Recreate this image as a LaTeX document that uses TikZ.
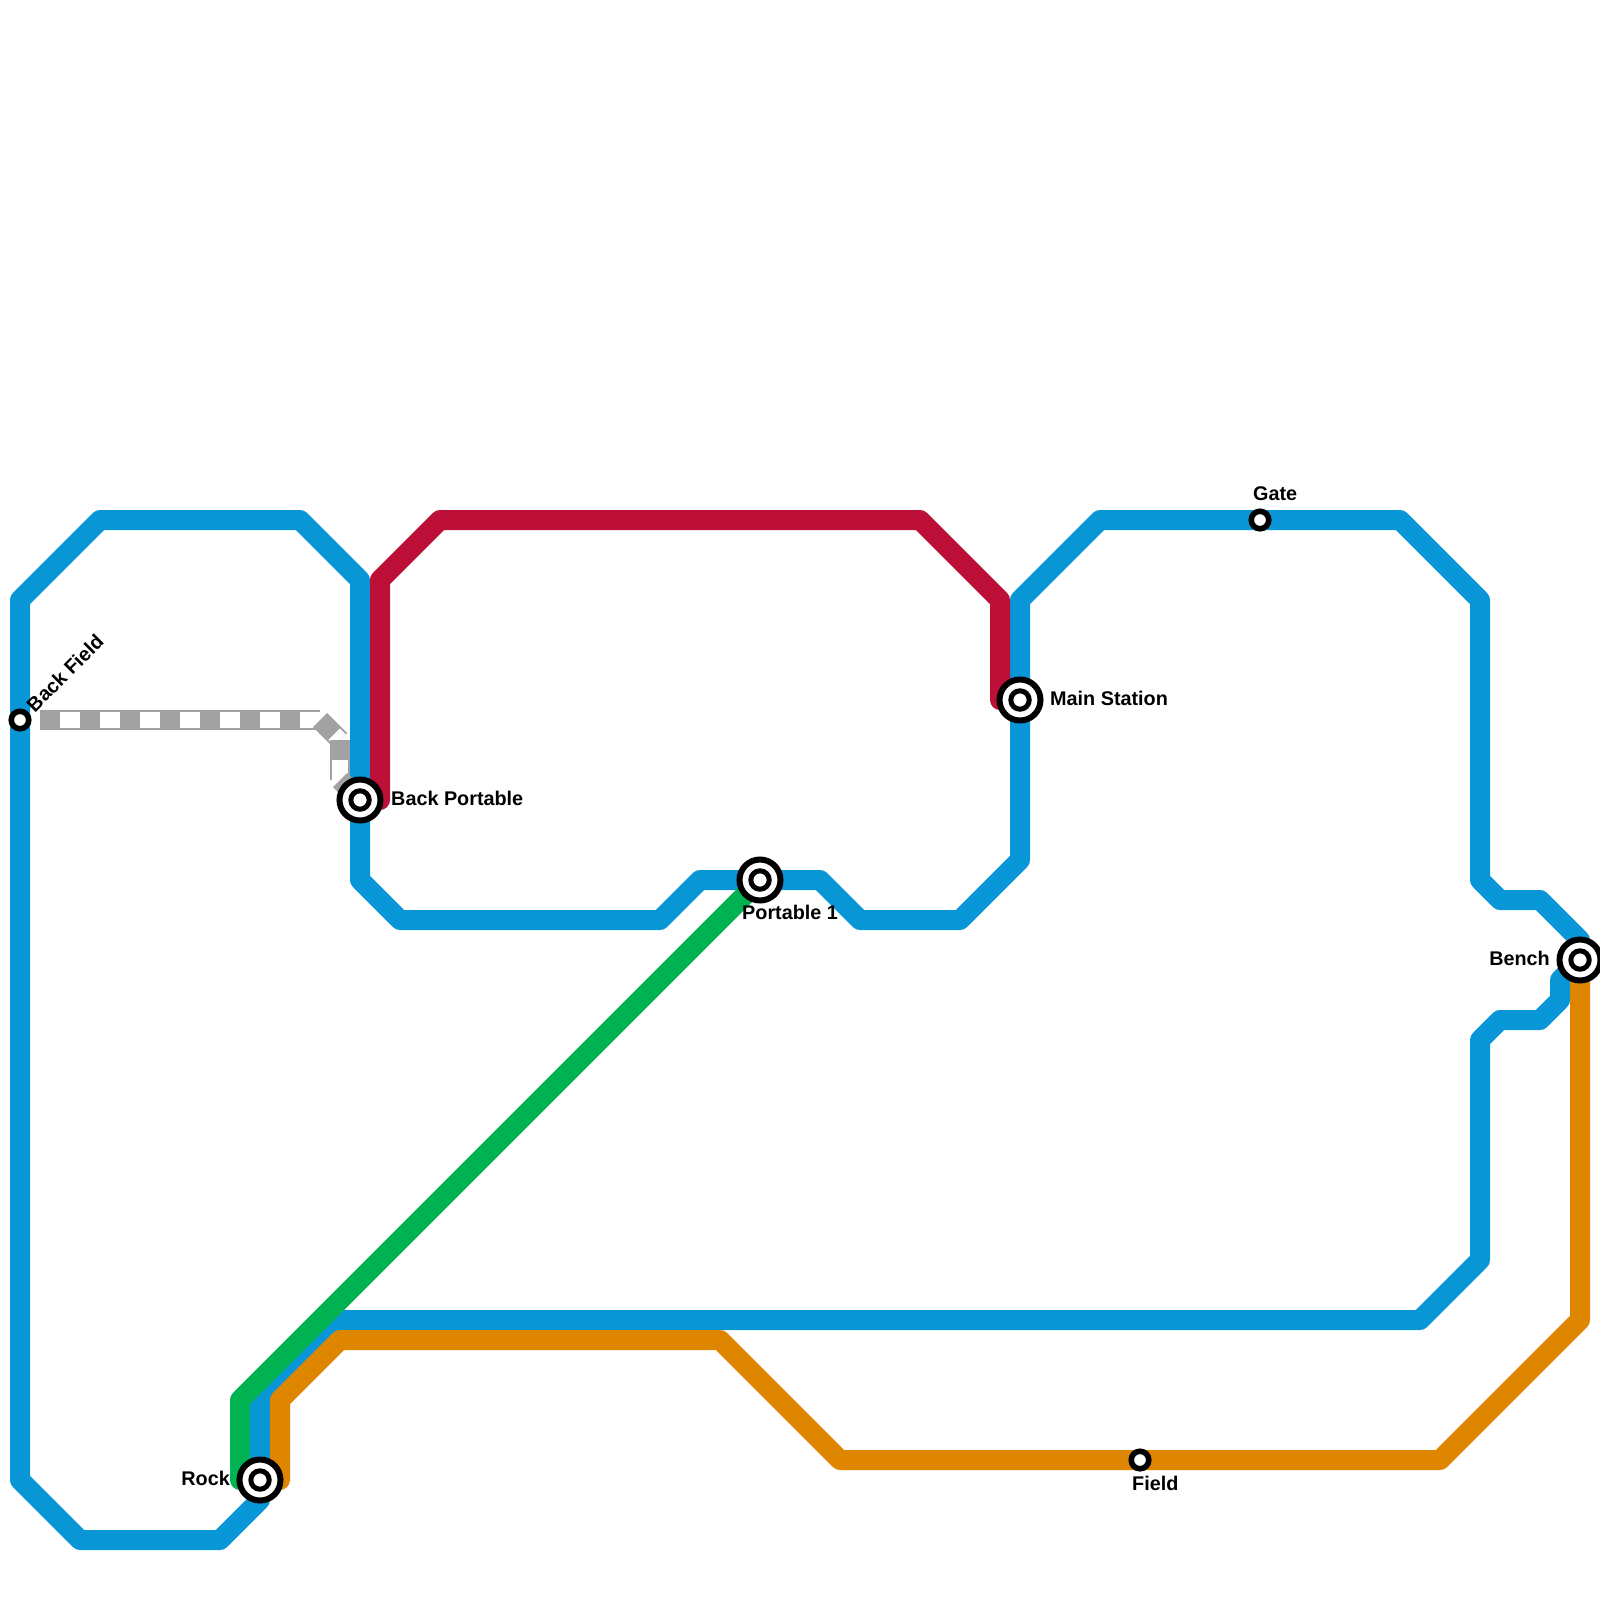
\documentclass[tikz,border=0pt]{standalone}
\usepackage{fontspec}
\setmainfont{Liberation Sans}
\usetikzlibrary{positioning,calc}
\definecolor{lineblue}{HTML}{0896D7}
\definecolor{linered}{HTML}{BD1038}
\definecolor{linegreen}{HTML}{00B251}
\definecolor{lineorange}{HTML}{DF8600}
\definecolor{linegray}{HTML}{A2A2A2}
\tikzset{
    metro/.style={line width=20pt,line join=round,line cap=round},
    graytrack/.style={line width=20pt,draw=linegray},
    graygap/.style={line width=16pt,draw=white,dash pattern=on 20pt off 20pt,dash phase=20pt},
    hub/.style={circle,draw=black,fill=white,line width=6pt,minimum size=41pt,inner sep=0pt,
        path picture={\draw[black,line width=5pt] (path picture bounding box.center) circle (9.2pt);}},
    halt/.style={circle,draw=black,fill=white,line width=5.6pt,minimum size=17.5pt,inner sep=0pt},
    tag/.style={font=\fontsize{19.8}{24}\selectfont\bfseries,inner sep=0pt}
}

\begin{document}
\begin{tikzpicture}[x=1pt,y=-1pt]
    \useasboundingbox (0,0) rectangle (1600,1600);
    \coordinate (backfield) at (20,720);
    \coordinate (backportable) at (360,800);
    \coordinate (mainstation) at (1020,700);
    \coordinate (portable) at (760,880);
    \coordinate (gate) at (1260,520);
    \coordinate (field) at (1140,1460);
    \coordinate (rock) at (260,1480);
    \coordinate (bench) at (1580,960);
    \coordinate (g0) at (40,720);
    \coordinate (g1) at (320,720);
    \coordinate (g2) at (340,740);
    \coordinate (g3) at (340,780);
    \draw[metro,lineblue] (rock) -- (260,1400) -- (340,1320) -- (1420,1320) -- (1480,1260) -- (1480,1040) -- (1500,1020) -- (1540,1020) -- (1560,1000) -- (1560,980) -- (bench);
    \draw[metro,lineblue] (bench) -- (1580,940) -- (1540,900) -- (1500,900) -- (1480,880) -- (1480,600) -- (1400,520) -- (gate) -- (1100,520) -- (1020,600) -- (mainstation) -- (1020,860) -- (960,920) -- (860,920) -- (820,880) -- (portable) -- (700,880) -- (660,920) -- (400,920) -- (360,880) -- (backportable) -- (360,580) -- (300,520) -- (100,520) -- (20,600) -- (backfield) -- (20,1480) -- (80,1540) -- (220,1540) -- (260,1500) -- (rock);
    \draw[metro,linered] (380,800) -- (380,580) -- (440,520) -- (920,520) -- (1000,600) -- (1000,700);
    \draw[metro,linegreen] (portable) -- (240,1400) -- (240,1480);
    \draw[metro,lineorange] (280,1480) -- (280,1400) -- (340,1340) -- (720,1340) -- (840,1460) -- (field) -- (1440,1460) -- (1580,1320) -- (bench);
    \foreach \a/\b in {g0/g1,g1/g2,g2/g3,g3/backportable} {
        \draw[graytrack] (\a) -- (\b);
        \draw[graygap] (\a) -- (\b);
    }
    \node[halt] (backfieldstop) at (backfield) {};
    \node[halt] (gatestop) at (gate) {};
    \node[halt] (fieldstop) at (field) {};
    \node[hub] (backportablestop) at (backportable) {};
    \node[hub] (mainstop) at (mainstation) {};
    \node[hub] (portablestop) at (portable) {};
    \node[hub] (rockstop) at (rock) {};
    \node[hub] (benchstop) at (bench) {};
    \node[tag,rotate=45] (backfieldtag) at (65,673) {Back Field};
    \node[tag,anchor=base west] (backportabletag) at (391,805) {Back Portable};
    \node[tag,anchor=base west] (maintag) at (1050,705) {Main Station};
    \node[tag,anchor=base west] (portabletag) at (742,919) {Portable 1};
    \node[tag,anchor=base west] (gatetag) at (1253,500) {Gate};
    \node[tag,anchor=base west] (fieldtag) at (1132,1490) {Field};
    \node[tag,anchor=base east] (rocktag) at (230,1485) {Rock};
    \node[tag,anchor=base east] (benchtag) at (1550,965) {Bench};
\end{tikzpicture}
\end{document}
